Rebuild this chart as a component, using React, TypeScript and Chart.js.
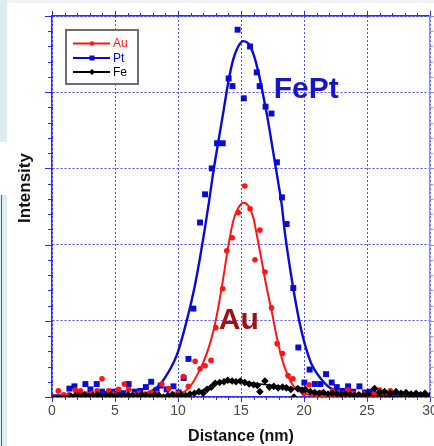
import React, { useEffect, useRef } from "react";
import { Chart, registerables } from "chart.js";

Chart.register(...registerables);

// ---------- data ----------
const X_MIN = 0;
const X_MAX = 30;
const Y_MIN = 0;
const Y_MAX = 5;

const auPoints: number[][] = [
  [0.0, 0.0], [0.5, 0.08], [0.93, 0.03], [1.35, 0.03], [1.85, 0.09], [2.26, 0.08],
  [2.7, 0.04], [3.15, 0.05], [3.58, 0.08], [3.97, 0.24], [4.5, 0.08], [4.9, 0.04],
  [5.29, 0.1], [5.74, 0.17], [6.08, 0.1], [6.5, 0.03], [6.95, 0.05], [7.4, 0.04],
  [7.85, 0.06], [8.3, 0.05], [8.72, 0.17], [9.25, 0.11], [9.6, 0.04], [10.0, 0.05],
  [10.43, 0.27], [10.82, 0.14], [11.36, 0.47], [11.75, 0.37], [12.15, 0.41], [12.62, 0.48],
  [13.0, 0.91], [13.55, 1.42], [13.87, 1.92], [14.3, 2.09], [14.78, 2.42], [15.3, 2.77],
  [15.72, 2.47], [16.11, 1.8], [16.5, 2.19], [16.9, 1.64], [17.42, 1.17], [17.87, 0.7],
  [18.28, 0.57], [18.73, 0.28], [19.12, 0.24], [19.6, 0.1], [20.0, 0.05], [20.4, 0.16],
  [20.85, 0.05], [21.4, 0.06], [21.75, 0.01], [22.25, 0.08], [22.7, 0.05], [23.1, 0.04],
  [23.5, 0.09], [23.9, 0.05], [24.35, 0.03], [24.8, 0.04], [25.2, 0.0], [25.6, 0.05],
  [26.0, 0.09], [26.4, 0.05], [26.85, 0.08],
];

const ptPoints: number[][] = [
  [1.38, 0.11], [1.78, 0.14], [2.2, 0.05], [2.65, 0.17], [3.05, 0.1], [3.55, 0.17],
  [3.97, 0.07], [4.4, 0.04], [4.8, 0.07], [5.2, 0.04], [5.65, 0.05], [6.08, 0.17],
  [6.55, 0.07], [7.0, 0.08], [7.45, 0.13], [7.87, 0.2], [8.3, 0.09], [8.62, 0.15],
  [9.1, 0.1], [9.64, 0.14], [10.05, 0.06], [10.45, 0.25], [10.83, 0.5], [11.22, 1.16],
  [11.75, 2.29], [12.15, 2.66], [12.68, 3.0], [13.1, 3.33], [13.55, 3.33], [14.02, 4.18],
  [14.32, 4.08], [14.73, 4.82], [15.22, 3.92], [15.72, 4.6], [16.25, 4.26], [16.48, 4.08],
  [16.95, 3.81], [17.42, 3.72], [17.85, 3.08], [18.25, 2.62], [18.62, 2.27], [19.15, 1.43],
  [19.55, 0.65], [20.03, 0.19], [20.45, 0.36], [20.85, 0.17], [21.3, 0.17], [21.75, 0.3],
  [22.2, 0.19], [22.6, 0.13], [23.05, 0.08], [23.5, 0.14], [23.9, 0.07], [24.4, 0.14],
  [24.85, 0.06], [25.25, 0.07], [25.7, 0.03], [26.3, 0.02], [26.8, 0.02], [27.3, 0.01],
];

const fePoints: number[][] = [
  [1.5, 0.01], [1.85, 0.02], [2.2, 0.01], [2.55, 0.03], [2.9, 0.01], [3.25, 0.02],
  [3.6, 0.03], [3.95, 0.01], [4.3, 0.02], [4.65, 0.03], [5.0, 0.01], [5.35, 0.02],
  [5.7, 0.01], [6.05, 0.03], [6.4, 0.02], [6.75, 0.01], [7.1, 0.03], [7.45, 0.02],
  [7.8, 0.01], [8.15, 0.03], [8.5, 0.02], [8.85, 0.0], [9.2, 0.02], [9.55, 0.03],
  [9.9, 0.01], [10.25, 0.03], [10.6, 0.02], [10.95, 0.04], [11.3, 0.05], [11.65, 0.07],
  [12.0, 0.05], [12.3, 0.1], [12.65, 0.13], [12.95, 0.18], [13.3, 0.19], [13.65, 0.2],
  [13.95, 0.22], [14.3, 0.21], [14.6, 0.2], [14.95, 0.21], [15.3, 0.19], [15.65, 0.17],
  [16.0, 0.16], [16.3, 0.15], [16.5, 0.07], [16.9, 0.21], [17.25, 0.13], [17.6, 0.14],
  [17.95, 0.12], [18.3, 0.13], [18.6, 0.12], [18.95, 0.1], [19.2, 0.0], [19.5, 0.11],
  [19.85, 0.09], [20.1, 0.1], [20.5, 0.07], [20.85, 0.06], [21.2, 0.05], [21.55, 0.06],
  [21.9, 0.04], [22.25, 0.05], [22.6, 0.04], [22.95, 0.03], [23.3, 0.04], [23.65, 0.03],
  [24.0, 0.02], [24.35, 0.03], [24.7, 0.02], [25.05, 0.04], [25.6, 0.11], [26.0, 0.06],
  [26.4, 0.07], [26.85, 0.05], [27.3, 0.07], [27.7, 0.05], [28.1, 0.06], [28.5, 0.04],
  [28.9, 0.05], [29.25, 0.03], [29.6, 0.05], [30.0, 0.02],
];

// fitted curves
const ptFit: number[][] = [
  [0, 0.02], [4, 0.02], [7, 0.03], [7.5, 0.05], [8.0, 0.09], [8.6, 0.17], [9.25, 0.33],
  [9.7, 0.47], [10.05, 0.62], [10.55, 0.91], [10.96, 1.18], [11.36, 1.48], [11.75, 1.83],
  [12.15, 2.23], [12.45, 2.55], [12.8, 2.95], [13.2, 3.35], [13.6, 3.74], [14.0, 4.14],
  [14.4, 4.44], [14.78, 4.6], [15.18, 4.67], [15.58, 4.64], [15.97, 4.51], [16.37, 4.27],
  [16.76, 3.96], [17.16, 3.61], [17.55, 3.22], [17.95, 2.82], [18.22, 2.54], [18.48, 2.16],
  [18.88, 1.7], [19.27, 1.31], [19.67, 0.96], [20.07, 0.69], [20.6, 0.43], [21.25, 0.26],
  [21.9, 0.14], [22.44, 0.09], [23.1, 0.05], [24, 0.03], [26, 0.02], [30, 0.02],
];

const auFit: number[][] = [
  [0, 0.01], [9, 0.01], [10, 0.04], [10.83, 0.11], [11.62, 0.32], [12.28, 0.57],
  [12.8, 0.86], [13.2, 1.18], [13.6, 1.57], [14.0, 1.99], [14.4, 2.32], [14.78, 2.48],
  [15.2, 2.55], [15.58, 2.51], [15.97, 2.36], [16.24, 2.14], [16.64, 1.79], [17.03, 1.44],
  [17.43, 1.13], [17.82, 0.8], [18.22, 0.52], [18.62, 0.32], [19.14, 0.15], [19.8, 0.06],
  [20.7, 0.02], [22, 0.01], [30, 0.01],
];

const feFit: number[][] = [
  [0, 0.01], [9, 0.01], [10, 0.02], [11, 0.04], [11.7, 0.07], [12.3, 0.12], [12.9, 0.17],
  [13.5, 0.19], [14.5, 0.2], [15.5, 0.19], [16.5, 0.17], [17.5, 0.15], [18.5, 0.13],
  [19.5, 0.1], [20.5, 0.07], [21.5, 0.05], [22.5, 0.04], [23.5, 0.03], [25, 0.02],
  [27, 0.01], [30, 0.01],
];

const legendLabels = ["Au", "Pt", "Fe"];
const xTitle = "Distance (nm)";
const yTitle = "Intensity";
const ptLabelText = "FePt";
const ptLabelPos = [17.6, 3.93];
const auLabelText = "Au";
const auLabelPos = [13.24, 0.89];

// ---------- styles ----------
const RED = "#ff1414";
const BLUE = "#0a0ad8";
const BLACK = "#000000";
const AXIS_BLUE = "#2b2bff";
const AXIS_LIGHT = "#8c8cff";
const GRID_BLUE = "#4d4dff";
const FONT = "'Liberation Sans', Arial, sans-serif";

const toXY = (arr: number[][]) => arr.map(([x, y]) => ({ x, y }));

const noPad = (s: any) => {
  s.paddingLeft = 0;
  s.paddingRight = 0;
  s.paddingTop = 0;
  s.paddingBottom = 0;
};

const decorPlugin = {
  id: "decor",
  afterDraw(chart: any) {
    const { ctx, chartArea: a, scales } = chart;
    const xs = scales.x;
    const ys = scales.y;
    ctx.save();
    ctx.lineWidth = 1;
    const seg = (x1: number, y1: number, x2: number, y2: number, c: string) => {
      ctx.strokeStyle = c;
      ctx.beginPath();
      ctx.moveTo(x1, y1);
      ctx.lineTo(x2, y2);
      ctx.stroke();
    };
    // x ticks (bottom & top)
    for (let v = X_MIN; v <= X_MAX; v += 1) {
      const px = Math.round(xs.getPixelForValue(v)) + 0.5;
      const len = v % 5 === 0 ? 5 : 3;
      seg(px, a.bottom, px, a.bottom + len, AXIS_BLUE);
      seg(px, a.top, px, a.top - len, AXIS_BLUE);
    }
    // y ticks (left & right)
    for (let i = 0; i <= 25; i++) {
      const v = Y_MIN + i * 0.2;
      const py = Math.round(ys.getPixelForValue(v)) + 0.5;
      const major = i % 5 === 0;
      seg(a.left + 1, py, a.left - (major ? 7 : 4), py, AXIS_BLUE);
      seg(a.right, py, a.right + (major ? 5 : 3), py, AXIS_LIGHT);
    }

    // y title
    ctx.save();
    ctx.translate(25, 188);
    ctx.rotate(-Math.PI / 2);
    ctx.fillStyle = "#111";
    ctx.font = `bold 17px ${FONT}`;
    ctx.textAlign = "center";
    ctx.textBaseline = "middle";
    ctx.fillText(yTitle, 0, 0);
    ctx.restore();

    // in-plot labels
    ctx.font = `bold 30px ${FONT}`;
    ctx.textAlign = "left";
    ctx.textBaseline = "alphabetic";
    ctx.fillStyle = "#1616c8";
    ctx.fillText(ptLabelText, xs.getPixelForValue(ptLabelPos[0]), ys.getPixelForValue(ptLabelPos[1]));
    ctx.fillStyle = "#a01212";
    ctx.fillText(auLabelText, xs.getPixelForValue(auLabelPos[0]), ys.getPixelForValue(auLabelPos[1]));

    // legend
    const bx = 66, by = 30, bw = 72, bh = 54;
    ctx.fillStyle = "#ffffff";
    ctx.fillRect(bx, by, bw, bh);
    ctx.strokeStyle = "#6e6e6e";
    ctx.lineWidth = 2;
    ctx.strokeRect(bx, by, bw, bh);
    const colors = [RED, BLUE, BLACK];
    const rows = [43.5, 58, 72];
    ctx.font = `12px ${FONT}`;
    ctx.textBaseline = "middle";
    legendLabels.forEach((lab, i) => {
      const yy = rows[i];
      ctx.strokeStyle = colors[i];
      ctx.lineWidth = 2;
      ctx.beginPath();
      ctx.moveTo(73, yy);
      ctx.lineTo(110, yy);
      ctx.stroke();
      ctx.fillStyle = colors[i];
      ctx.beginPath();
      if (i === 0) {
        ctx.arc(92, yy, 2.2, 0, Math.PI * 2);
      } else if (i === 1) {
        ctx.rect(89.5, yy - 2.5, 5, 5);
      } else {
        ctx.moveTo(92, yy - 3);
        ctx.lineTo(95, yy);
        ctx.lineTo(92, yy + 3);
        ctx.lineTo(89, yy);
        ctx.closePath();
      }
      ctx.fill();
      ctx.fillText(lab, 113, yy + 0.5);
    });
    ctx.restore();
  },
};

export default function App() {
  const ref = useRef<HTMLCanvasElement | null>(null);

  useEffect(() => {
    if (!ref.current) return;
    const chart = new Chart(ref.current, {
      type: "scatter",
      data: {
        datasets: [
          {
            type: "scatter",
            label: "Fe points",
            data: toXY(fePoints),
            pointStyle: "rectRot",
            pointRadius: 3.8,
            pointBackgroundColor: BLACK,
            pointBorderWidth: 0,
            showLine: false,
          },
          {
            type: "line",
            label: "Fe fit",
            data: toXY(feFit),
            borderColor: BLACK,
            borderWidth: 1.5,
            pointRadius: 0,
            cubicInterpolationMode: "monotone",
            fill: false,
          },
          {
            type: "scatter",
            label: "Au points",
            data: toXY(auPoints),
            pointStyle: "circle",
            pointRadius: 2.8,
            pointBackgroundColor: RED,
            pointBorderWidth: 0,
            showLine: false,
          },
          {
            type: "line",
            label: "Au fit",
            data: toXY(auFit),
            borderColor: RED,
            borderWidth: 2,
            pointRadius: 0,
            cubicInterpolationMode: "monotone",
            fill: false,
          },
          {
            type: "line",
            label: "Pt fit",
            data: toXY(ptFit),
            borderColor: BLUE,
            borderWidth: 2.4,
            pointRadius: 0,
            cubicInterpolationMode: "monotone",
            fill: false,
          },
          {
            type: "scatter",
            label: "Pt points",
            data: toXY(ptPoints),
            pointStyle: "rect",
            pointRadius: 4.2,
            pointBackgroundColor: BLUE,
            pointBorderWidth: 0,
            showLine: false,
          },
        ] as any,
      },
      options: {
        animation: false,
        responsive: false,
        devicePixelRatio: 1,
        layout: { padding: 0, autoPadding: false },
        plugins: {
          legend: { display: false },
          tooltip: { enabled: false },
        },
        scales: {
          x: {
            type: "linear",
            position: "bottom",
            min: X_MIN,
            max: X_MAX,
            ticks: {
              stepSize: 5,
              color: "#4a4a4a",
              font: { family: FONT, size: 14 },
              padding: 6,
              maxRotation: 0,
              autoSkip: false,
            },
            grid: { color: GRID_BLUE, lineWidth: 1, drawTicks: false },
            border: { display: true, color: AXIS_BLUE, width: 1.5, dash: [2, 2] },
            title: {
              display: true,
              text: xTitle,
              color: "#111",
              font: { family: FONT, size: 16, weight: "bold" },
              padding: { top: 0, bottom: 0 },
            },
            afterFit: (s: any) => { s.height = 49; noPad(s); },
          },
          x2: {
            type: "linear",
            position: "top",
            min: X_MIN,
            max: X_MAX,
            ticks: { display: false },
            grid: { display: false, drawTicks: false },
            border: { display: true, color: AXIS_BLUE, width: 1.5 },
            afterFit: (s: any) => { s.height = 16; noPad(s); },
          },
          y: {
            type: "linear",
            position: "left",
            min: Y_MIN,
            max: Y_MAX,
            ticks: { display: false, stepSize: 1 },
            grid: { color: GRID_BLUE, lineWidth: 1, drawTicks: false },
            border: { display: true, color: AXIS_BLUE, width: 1.5, dash: [2, 2] },
            afterFit: (s: any) => { s.width = 52; noPad(s); },
          },
          y2: {
            type: "linear",
            position: "right",
            min: Y_MIN,
            max: Y_MAX,
            ticks: { display: false },
            grid: { display: false, drawTicks: false },
            border: { display: true, color: AXIS_LIGHT, width: 1.5 },
            afterFit: (s: any) => { s.width = 4; noPad(s); },
          },
        },
      } as any,
      plugins: [decorPlugin],
    });
    return () => chart.destroy();
  }, []);

  return (
    <div
      style={{
        position: "fixed",
        left: 0,
        top: 0,
        width: 434,
        height: 446,
        background: "#ffffff",
        overflow: "hidden",
      }}
    >
      <div style={{ position: "absolute", left: 0, top: 0, width: 434, height: 3, background: "#eef4f5" }} />
      <div style={{ position: "absolute", left: 0, top: 0, width: 7, height: 142, background: "#dcedef" }} />
      <div style={{ position: "absolute", left: 0, top: 195, width: 7, height: 251, background: "#dcedef" }} />
      <div style={{ position: "absolute", left: 1, top: 195, width: 1, height: 251, background: "#3a55e0" }} />
      <canvas
        ref={ref}
        width={434}
        height={446}
        style={{ position: "absolute", left: 0, top: 0, width: 434, height: 446 }}
      />
    </div>
  );
}
